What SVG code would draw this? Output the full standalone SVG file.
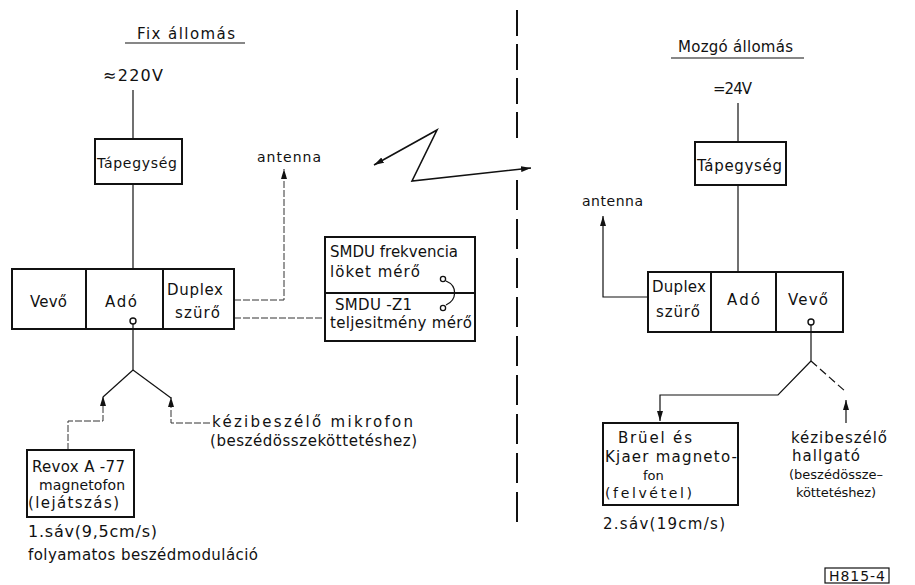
<svg xmlns="http://www.w3.org/2000/svg" width="915" height="585" viewBox="0 0 915 585">
<defs>
<style>
text{font-family:"DejaVu Sans","Liberation Sans",sans-serif;fill:#111;font-size:15px}
.m{font-size:14px}
.l{font-size:16px}
.s{font-size:13px}
.box{fill:none;stroke:#111;stroke-width:2}
.ln{fill:none;stroke:#111;stroke-width:1.2}
.dt{fill:none;stroke:#333;stroke-width:1;stroke-dasharray:7 2}
.th{fill:none;stroke:#111;stroke-width:1.6}
</style>
<marker id="ar" viewBox="0 0 10 6" refX="10" refY="3" markerWidth="10" markerHeight="6" markerUnits="userSpaceOnUse" orient="auto-start-reverse">
<path d="M0,0 L10,3 L0,6 Z" fill="#111"/>
</marker>
</defs>
<rect width="915" height="585" fill="#fff"/>

<g id="titles">
<text x="137" y="39" textLength="98" lengthAdjust="spacing">Fix állomás</text>
<line x1="125" y1="43" x2="245" y2="43" class="ln"/>
<text x="678" y="52" textLength="115" lengthAdjust="spacing">Mozgó állomás</text>
<line x1="671" y1="58" x2="804" y2="58" class="ln"/>
<text x="103" y="81" class="l" textLength="60" lengthAdjust="spacing">≈220V</text>
<text x="713" y="94" textLength="39" lengthAdjust="spacing">=24V</text>
</g>

<g id="connectors">
<line x1="133" y1="90" x2="133" y2="139" class="ln"/>
<line x1="133" y1="184" x2="133" y2="269" class="ln"/>
<line x1="133" y1="324" x2="133" y2="370" class="ln"/>
<line x1="133" y1="370" x2="103" y2="397" class="ln"/>
<line x1="133" y1="370" x2="171" y2="398" class="ln"/>
<path d="M68,450 V421 H103 V396" class="dt" marker-end="url(#ar)"/>
<path d="M210,423 H171 V397" class="dt" marker-end="url(#ar)"/>
<path d="M234,300 H284 V169" class="dt" marker-end="url(#ar)"/>
<path d="M234,318 H325" class="dt"/>
<path d="M446,281 C458,286 457,300 446,305" class="ln"/>
<polyline points="374,165 437,130 412,181 531,168" class="th" marker-start="url(#ar)" marker-end="url(#ar)"/>
<line x1="517" y1="10" x2="517" y2="144" stroke="#111" stroke-width="2" stroke-dasharray="26 8"/>
<line x1="517" y1="180" x2="517" y2="530" stroke="#111" stroke-width="2" stroke-dasharray="30 9"/>
<line x1="738" y1="103" x2="738" y2="142" class="ln"/>
<line x1="738" y1="185" x2="738" y2="272" class="ln"/>
<path d="M648,297 H603 V216" class="ln" marker-end="url(#ar)"/>
<line x1="811" y1="325" x2="811" y2="361" class="ln"/>
<path d="M811,361 L778,395 H660 V421" class="ln" marker-end="url(#ar)"/>
<line x1="811" y1="361" x2="846" y2="392" class="ln" stroke-dasharray="8 4"/>
<line x1="846" y1="423" x2="846" y2="400" class="ln" marker-end="url(#ar)"/>
</g>

<g id="tapegyseg-fix">
<rect x="95" y="139" width="87" height="45" class="box"/>
<text x="97" y="168" class="m" textLength="80" lengthAdjust="spacing">Tápegység</text>
</g>

<g id="fix-unit">
<rect x="12" y="269" width="222" height="60" class="box"/>
<line x1="86" y1="269" x2="86" y2="329" class="box"/>
<line x1="163" y1="269" x2="163" y2="329" class="box"/>
<text x="30" y="307" textLength="37" lengthAdjust="spacing">Vevő</text>
<text x="105" y="307" textLength="32" lengthAdjust="spacing">Adó</text>
<text x="167" y="295" textLength="56" lengthAdjust="spacing">Duplex</text>
<text x="175" y="318" textLength="45" lengthAdjust="spacing">szürő</text>
<circle cx="133" cy="321" r="3" fill="#fff" stroke="#111" stroke-width="1.4"/>
</g>

<g id="antenna-fix">
<text x="257" y="162" class="m" textLength="64" lengthAdjust="spacing">antenna</text>
</g>

<g id="smdu">
<rect x="325" y="237" width="150" height="104" class="box"/>
<line x1="325" y1="293" x2="475" y2="293" class="box"/>
<text x="330" y="257" textLength="128" lengthAdjust="spacing">SMDU frekvencia</text>
<text x="330" y="277" textLength="90" lengthAdjust="spacing">löket mérő</text>
<text x="335" y="310" textLength="77" lengthAdjust="spacing">SMDU -Z1</text>
<text x="330" y="328" textLength="142" lengthAdjust="spacing">teljesitmény mérő</text>
<circle cx="443" cy="279" r="2.6" fill="#fff" stroke="#111" stroke-width="1.3"/>
<circle cx="443" cy="308" r="2.6" fill="#fff" stroke="#111" stroke-width="1.3"/>
</g>

<g id="revox">
<rect x="27" y="450" width="107" height="67" class="box"/>
<text x="32" y="472" textLength="93" lengthAdjust="spacing">Revox A -77</text>
<text x="39" y="490" class="m" textLength="86" lengthAdjust="spacing">magnetofon</text>
<text x="28" y="508" textLength="91" lengthAdjust="spacing">(lejátszás)</text>
<text x="28" y="537" class="l" textLength="129" lengthAdjust="spacing">1.sáv(9,5cm/s)</text>
<text x="28" y="560" textLength="230" lengthAdjust="spacing">folyamatos beszédmoduláció</text>
</g>

<g id="mikrofon">
<text x="212" y="427" textLength="201" lengthAdjust="spacing">kézibeszélő mikrofon</text>
<text x="210" y="446" textLength="207" lengthAdjust="spacing">(beszédösszeköttetéshez)</text>
</g>

<g id="tapegyseg-mozgo">
<rect x="695" y="142" width="91" height="43" class="box"/>
<text x="697" y="171" textLength="85" lengthAdjust="spacing">Tápegység</text>
</g>

<g id="antenna-mozgo">
<text x="582" y="206" class="m" textLength="61" lengthAdjust="spacing">antenna</text>
</g>

<g id="mozgo-unit">
<rect x="648" y="272" width="195" height="60" class="box"/>
<line x1="711" y1="272" x2="711" y2="332" class="box"/>
<line x1="776" y1="272" x2="776" y2="332" class="box"/>
<text x="652" y="292" textLength="54" lengthAdjust="spacing">Duplex</text>
<text x="656" y="317" textLength="44" lengthAdjust="spacing">szürő</text>
<text x="727" y="305" textLength="33" lengthAdjust="spacing">Adó</text>
<text x="788" y="305" textLength="40" lengthAdjust="spacing">Vevő</text>
<circle cx="811" cy="322" r="3" fill="#fff" stroke="#111" stroke-width="1.4"/>
</g>

<g id="bruel">
<rect x="603" y="423" width="135" height="82" class="box"/>
<text x="618" y="443" textLength="74" lengthAdjust="spacing">Brüel  és</text>
<text x="605" y="462" textLength="132" lengthAdjust="spacing">Kjaer magneto-</text>
<text x="643" y="480" class="s">fon</text>
<text x="605" y="498" class="m" textLength="87" lengthAdjust="spacing">(felvétel)</text>
<text x="603" y="529" textLength="122" lengthAdjust="spacing">2.sáv(19cm/s)</text>
</g>

<g id="hallgato">
<text x="791" y="443" textLength="96" lengthAdjust="spacing">kézibeszélő</text>
<text x="792" y="461" textLength="68" lengthAdjust="spacing">hallgató</text>
<text x="789" y="479" class="s" textLength="94" lengthAdjust="spacing">(beszédössze–</text>
<text x="796" y="497" class="s" textLength="80" lengthAdjust="spacing">köttetéshez)</text>
</g>

<g id="label">
<rect x="825" y="568" width="64" height="15" fill="none" stroke="#111" stroke-width="1.2"/>
<text x="829" y="581" class="m" textLength="56" lengthAdjust="spacing">H815-4</text>
</g>
</svg>
